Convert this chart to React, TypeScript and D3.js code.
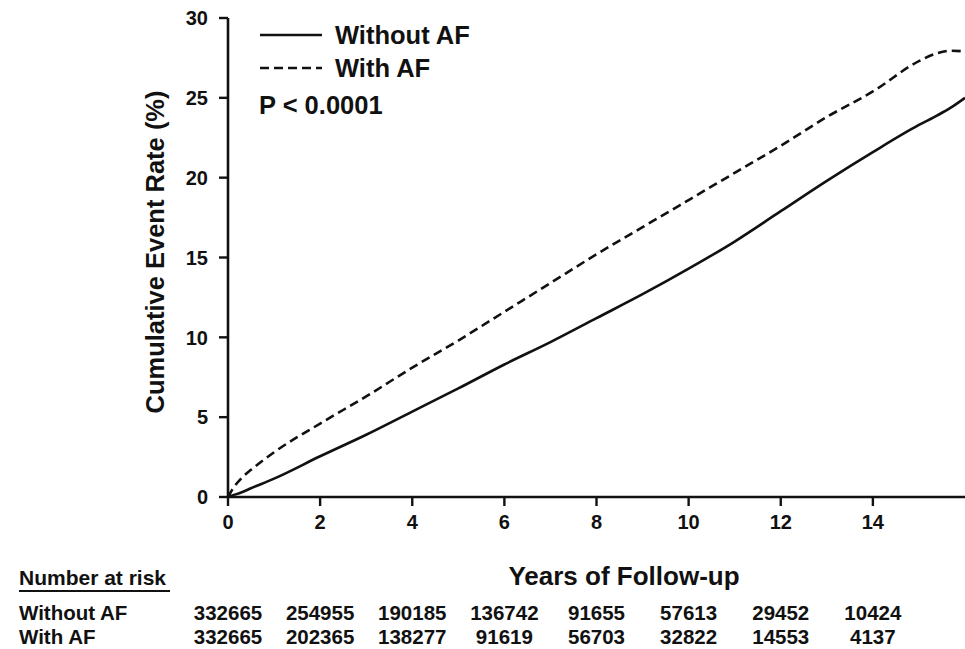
import React from "react";
import * as d3 from "d3";

const years = [0, 0.1, 0.3, 0.5, 1, 2, 3, 4, 5, 6, 7, 8, 9, 10, 11, 12, 13, 14, 15, 15.4, 15.7, 16];
const withoutAF = [0, 0.1, 0.3, 0.55, 1.15, 2.55, 3.9, 5.35, 6.8, 8.3, 9.7, 11.2, 12.7, 14.3, 16.0, 17.9, 19.8, 21.6, 23.3, 23.9, 24.4, 25.0];
const withAF = [0, 0.5, 1.2, 1.7, 2.8, 4.6, 6.3, 8.1, 9.8, 11.6, 13.4, 15.2, 16.9, 18.6, 20.3, 22.0, 23.8, 25.4, 27.3, 27.8, 27.95, 27.9];

const xTicks = [0, 2, 4, 6, 8, 10, 12, 14];
const yTicks = [0, 5, 10, 15, 20, 25, 30];
const riskWithout = ["332665", "254955", "190185", "136742", "91655", "57613", "29452", "10424"];
const riskWith = ["332665", "202365", "138277", "91619", "56703", "32822", "14553", "4137"];

const FONT = "'Liberation Sans', Arial, Helvetica, sans-serif";

export default function App() {
  const W = 965;
  const H = 649;
  const x = d3.scaleLinear().domain([0, 16]).range([228, 965]);
  const y = d3.scaleLinear().domain([0, 30]).range([497, 18]);

  const line = d3
    .line<number>()
    .x((_, i) => x(years[i]))
    .y((d) => y(d))
    .curve(d3.curveMonotoneX);

  const x0 = x(0);
  const y0 = y(0);
  const row1 = 620;
  const row2 = 644;
  const rowFont = 20.5;

  return (
    <svg
      width={W}
      height={H}
      style={{ position: "absolute", left: 0, top: 0, background: "#fff" }}
      fontFamily={FONT}
    >
      <rect x={0} y={0} width={W} height={H} fill="#fff" />
      {/* curves */}
      <path d={line(withoutAF) || ""} fill="none" stroke="#111" strokeWidth={2.6} />
      <path d={line(withAF) || ""} fill="none" stroke="#111" strokeWidth={2.6} strokeDasharray="9,5" />

      {/* y axis */}
      <line x1={x0} x2={x0} y1={y(30)} y2={y0} stroke="#111" strokeWidth={2.6} />
      {yTicks.map((t) => (
        <g key={"y" + t}>
          <line x1={x0 - 9} x2={x0} y1={y(t)} y2={y(t)} stroke="#111" strokeWidth={2.4} />
          <text x={208} y={y(t)} dy="0.36em" textAnchor="end" fontSize={20} fontWeight="bold" fill="#111">
            {t}
          </text>
        </g>
      ))}

      {/* x axis */}
      <line x1={x0} x2={W} y1={y0} y2={y0} stroke="#111" strokeWidth={2.6} />
      {xTicks.map((t) => (
        <g key={"x" + t}>
          <line x1={x(t)} x2={x(t)} y1={y0} y2={y0 + 9} stroke="#111" strokeWidth={2.4} />
          <text x={x(t)} y={529} textAnchor="middle" fontSize={20} fontWeight="bold" fill="#111">
            {t}
          </text>
        </g>
      ))}

      {/* axis titles */}
      <text
        transform={`translate(164, 252) rotate(-90)`}
        textAnchor="middle"
        fontSize={25.5}
        fontWeight="bold"
        fill="#111"
      >
        Cumulative Event Rate (%)
      </text>
      <text x={624} y={585} textAnchor="middle" fontSize={26} fontWeight="bold" fill="#111">
        Years of Follow-up
      </text>

      {/* legend */}
      <line x1={260} x2={322} y1={35} y2={35} stroke="#111" strokeWidth={2.6} />
      <text x={335} y={44} fontSize={25.5} fontWeight="bold" fill="#111">Without AF</text>
      <line x1={260} x2={322} y1={68} y2={68} stroke="#111" strokeWidth={2.6} strokeDasharray="9,5" />
      <text x={335} y={77} fontSize={25.5} fontWeight="bold" fill="#111">With AF</text>
      <text x={259} y={114} fontSize={25.5} fontWeight="bold" fill="#111">P &lt; 0.0001</text>

      {/* number at risk */}
      <text x={19} y={585} fontSize={21} fontWeight="bold" fill="#111">Number at risk</text>
      <line x1={19} x2={170} y1={591} y2={591} stroke="#111" strokeWidth={2} />
      <text x={19} y={row1} fontSize={rowFont} fontWeight="bold" fill="#111">Without AF</text>
      <text x={19} y={row2} fontSize={rowFont} fontWeight="bold" fill="#111">With AF</text>
      {xTicks.map((t, i) => (
        <g key={"r" + t}>
          <text x={x(t)} y={row1} textAnchor="middle" fontSize={rowFont} fontWeight="bold" fill="#111">
            {riskWithout[i]}
          </text>
          <text x={x(t)} y={row2} textAnchor="middle" fontSize={rowFont} fontWeight="bold" fill="#111">
            {riskWith[i]}
          </text>
        </g>
      ))}
    </svg>
  );
}
